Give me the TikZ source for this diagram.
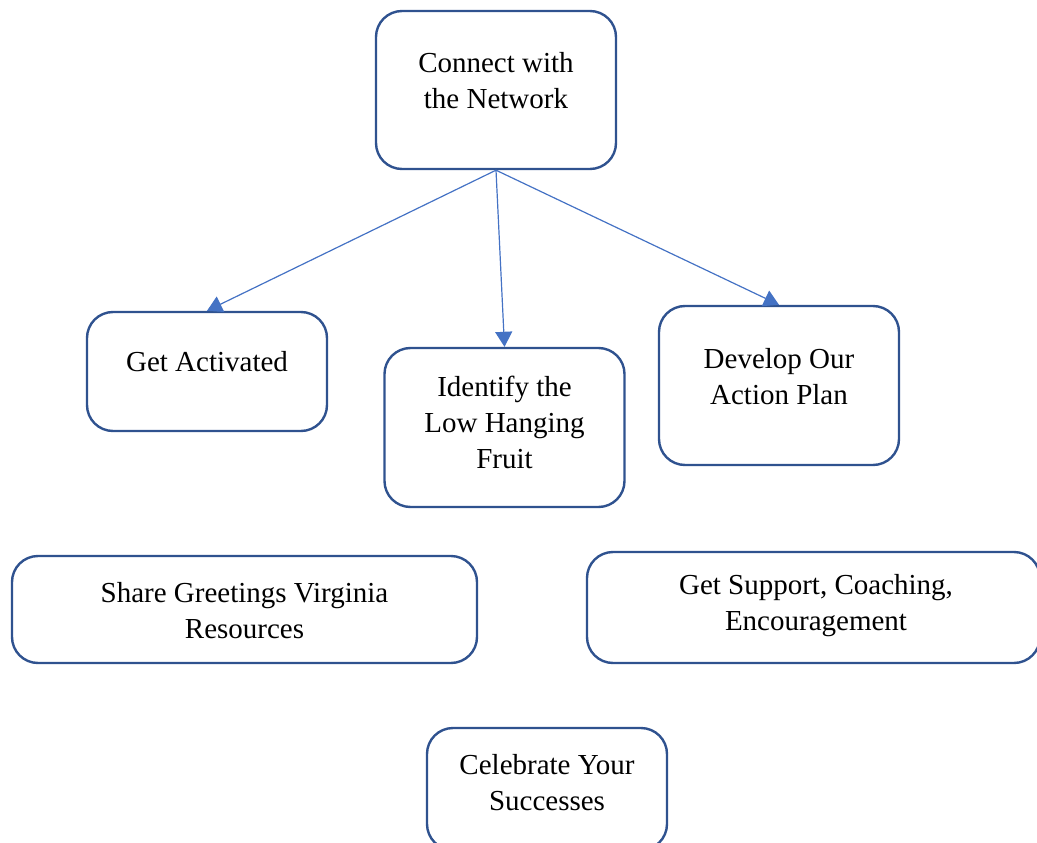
\documentclass[tikz,border=0pt]{standalone}
\usepackage{fontspec}
\setmainfont{Liberation Serif}
\definecolor{boxblue}{RGB}{47,82,143}
\definecolor{arrowblue}{RGB}{68,114,196}
\usetikzlibrary{arrows.meta}

\begin{document}
\begin{tikzpicture}[x=1pt,y=-1pt,>={Triangle[width=17pt,length=15pt]},
  every node/.style={font=\fontsize{29}{36}\selectfont,align=center},
  box/.style={draw=boxblue, line width=2.4pt, rounded corners=26pt,
    minimum width=240pt, minimum height=158pt, inner sep=0pt},
  link/.style={->, arrowblue, line width=1.2pt}]

\useasboundingbox (0,0) rectangle (1037,843);
\clip (0,0) rectangle (1037,843);

% Cajas
\node[box] (net) at (496,90) {};
\node[box, minimum height=119pt] (act) at (207,371.5) {};
\node[box, minimum height=159pt] (fruit) at (504.5,427.5) {};
\node[box, minimum height=159pt] (plan) at (779,385.5) {};
\node[box, minimum width=465pt, minimum height=107pt] (share) at (244.5,609.5) {};
\node[box, minimum width=453pt, minimum height=111pt] (support) at (813.5,607.5) {};
\node[box, minimum height=122pt] (win) at (547,789) {};

% Textos
\node (netT) at (496,81) {Connect with\\the Network};
\node (actT) at (207,362) {Get Activated};
\node (fruitT) at (504.5,422) {Identify the\\Low Hanging\\Fruit};
\node (planT) at (779,377) {Develop Our\\Action Plan};
\node (shareT) at (244.5,610.5) {Share Greetings Virginia\\Resources};
\node (supportT) at (816,605.5) {Get Support, Coaching,\\Encouragement};
\node (winT) at (547,782.5) {Celebrate Your\\Successes};

% Flechas
\draw[link] (net.south) -- (act.north);
\draw[link] (net.south) -- (fruit.north);
\draw[link] (net.south) -- (plan.north);

\end{tikzpicture}
\end{document}
